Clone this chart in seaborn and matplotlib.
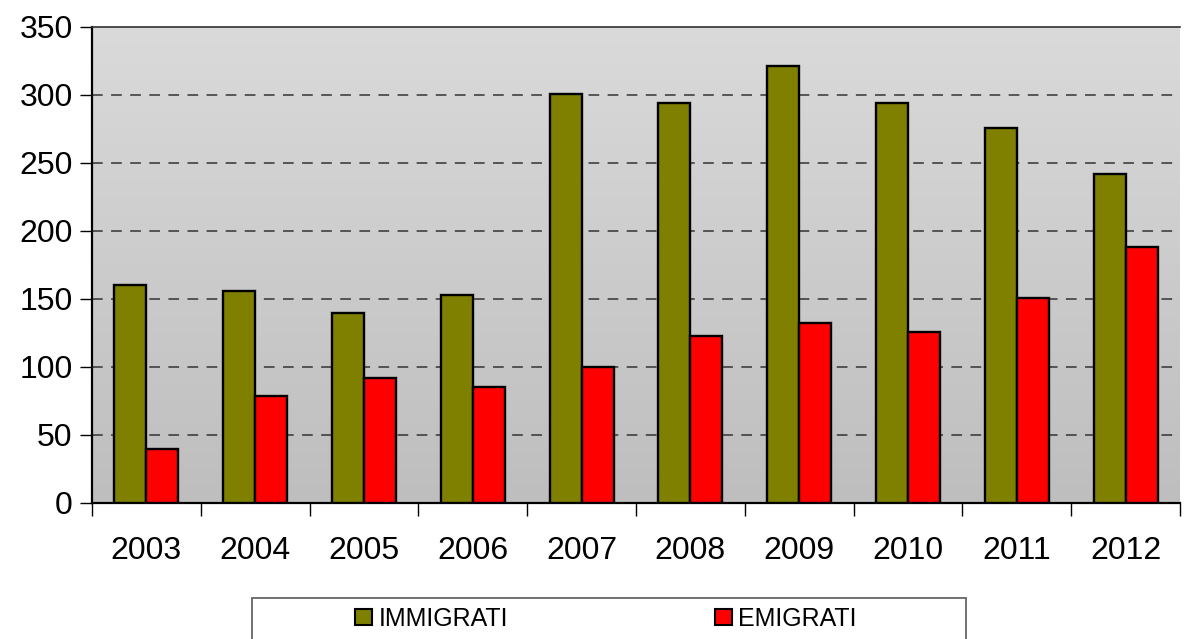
import numpy as np
import pandas as pd
import matplotlib
matplotlib.use("Agg")
import matplotlib.pyplot as plt
import seaborn as sns
from matplotlib.patches import Rectangle

anni = ["2003", "2004", "2005", "2006", "2007", "2008", "2009", "2010", "2011", "2012"]
immigrati = [160, 156, 140, 153, 301, 294, 321, 294, 276, 242]
emigrati = [40, 79, 92, 85, 100, 123, 132, 126, 151, 188]

df = pd.DataFrame({
    "anno": anni * 2,
    "valore": immigrati + emigrati,
    "serie": ["IMMIGRATI"] * len(anni) + ["EMIGRATI"] * len(anni),
})

sns.set_theme(style="white")
plt.rcParams["font.family"] = ["Liberation Sans", "DejaVu Sans"]
plt.rcParams["text.color"] = "black"
plt.rcParams["xtick.color"] = "black"
plt.rcParams["ytick.color"] = "black"

fig = plt.figure(figsize=(11.89, 6.39), dpi=100)
ax = fig.add_axes([92 / 1189, 1 - 503 / 639, 1088 / 1189, 476 / 639])

# sfondo sfumato grigio
grad = np.linspace(0, 1, 256).reshape(-1, 1)
ax.imshow(grad, extent=[0, 1, 0, 1], transform=ax.transAxes, aspect="auto",
          cmap=matplotlib.colors.LinearSegmentedColormap.from_list("g", ["#DADADA", "#BEBEBE"]),
          zorder=0)

sns.barplot(data=df, x="anno", y="valore", hue="serie", width=0.59,
            palette={"IMMIGRATI": "#808000", "EMIGRATI": "#FF0000"},
            edgecolor="black", linewidth=1.7, saturation=1, ax=ax, zorder=3,
            legend=False)

ax.set_xlim(-0.5, len(anni) - 0.5)
ax.set_ylim(0, 350)
ax.set_yticks(range(0, 351, 50))
for y in range(50, 350, 50):
    ax.axhline(y, color="#333333", linestyle=(0, (7, 5.5)), linewidth=1.1, zorder=1)

ax.set_xticks(np.arange(len(anni)))
ax.set_xticklabels(anni)
ax.set_xticks(np.arange(-0.5, len(anni), 1), minor=True)
ax.tick_params(axis="x", which="major", length=0, pad=24, labelsize=23, labelcolor="black")
ax.tick_params(axis="x", which="minor", length=9, width=1, direction="out", color="black")
ax.tick_params(axis="y", length=9, width=1, direction="out", color="black", labelsize=23,
               pad=5, labelcolor="black")
ax.tick_params(left=True, bottom=True, which="both")
ax.set_xlabel("")
ax.set_ylabel("")

for s in ["left", "bottom"]:
    ax.spines[s].set_color("black")
    ax.spines[s].set_linewidth(1.6)
ax.spines["top"].set_color("#303030")
ax.spines["top"].set_linewidth(1.2)
ax.spines["right"].set_visible(False)

# legenda
fig.patches.append(Rectangle((252 / 1189, -0.05), 714 / 1189, 0.05 + 1 - 598 / 639,
                             transform=fig.transFigure, facecolor="white",
                             edgecolor="#666666", linewidth=1.3))
handles = [Rectangle((0, 0), 1, 1, facecolor="#808000", edgecolor="black", linewidth=1.5),
           Rectangle((0, 0), 1, 1, facecolor="#FF0000", edgecolor="black", linewidth=1.5)]
fig.legend(handles, ["IMMIGRATI", "EMIGRATI"], loc="center", ncol=2,
           bbox_to_anchor=(606 / 1189, 1 - 619 / 639), frameon=False, fontsize=18,
           handlelength=0.68, handleheight=0.64, handletextpad=0.24, columnspacing=8.3,
           borderpad=0, borderaxespad=0)

fig.savefig("out.png", dpi=100)
